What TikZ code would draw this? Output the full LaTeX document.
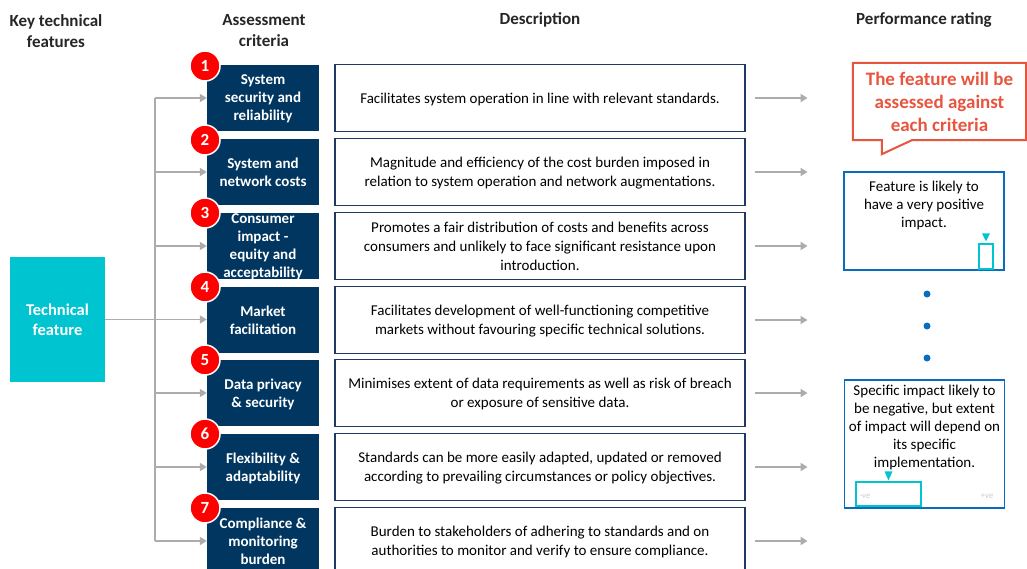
\documentclass[tikz,border=0pt]{standalone}
\usepackage{fontspec}
\setmainfont{Carlito}
\usepackage{xcolor}
\usetikzlibrary{
    arrows.meta,
    calc,
    positioning
}
\definecolor{navy}{RGB}{0,54,96}
\definecolor{tcyan}{RGB}{0,196,208}
\definecolor{descline}{RGB}{31,56,100}
\definecolor{rateline}{RGB}{10,108,190}
\definecolor{notered}{RGB}{232,85,63}
\definecolor{arrgray}{RGB}{172,172,172}
\definecolor{headtext}{RGB}{38,38,38}

\begin{document}
\begin{tikzpicture}[x=1pt, y=-1pt,
    header/.style={align=center, text=headtext, font=\fontsize{17}{21}\selectfont\bfseries},
    critbox/.style={fill=navy, text=white, minimum width=112, minimum height=66, inner sep=0,
        align=center, text depth=0pt, font=\fontsize{15}{18}\selectfont\bfseries},
    crittext/.style={text=white, inner sep=0, align=center, text depth=0pt,
        font=\fontsize{15}{18}\selectfont\bfseries},
    descbox/.style={draw=descline, line width=1.1pt, minimum width=410, minimum height=67, inner sep=0,
        align=center, text depth=0pt, font=\fontsize{15}{19}\selectfont},
    badge/.style={circle, fill=red, draw=white, line width=1.5pt, minimum size=30, inner sep=0,
        text=white, font=\fontsize{17}{17}\selectfont\bfseries},
    garrow/.style={draw=arrgray, line width=1.8pt, -{Triangle[length=7pt, width=8pt]}},
    gline/.style={draw=arrgray, line width=1.8pt},
    ratebox/.style={draw=rateline, line width=1.3pt, minimum width=160, inner sep=0},
    ratetext/.style={align=center, inner sep=0, font=\fontsize{15}{18}\selectfont},
    marker/.style={draw=tcyan, line width=1.2pt, inner sep=0},
    endlabel/.style={text=black!20, inner sep=0, font=\fontsize{9}{9}\selectfont\itshape},
    dot/.style={circle, fill=rateline, minimum size=7, inner sep=0}
]
\clip (0,0) rectangle (1027,569);

% column headings
\node[header] (h1) at (56,31) {Key technical\\features};
\node[header] (h2) at (264,31) {Assessment\\criteria};
\node[header] (h3) at (540,20) {Description};
\node[header] (h4) at (924,20) {Performance rating};

% the feature
\node[fill=tcyan, text=white, minimum width=95, minimum height=125, inner sep=0, align=center,
    text depth=0pt, font=\fontsize{16.5}{20}\selectfont\bfseries] (tf) at (57.5,319.5) {Technical\\feature};

% criteria
\node[critbox] (crit1) at (263,98) {System\\security and\\reliability};
\node[critbox] (crit2) at (263,172) {System and\\network costs};
\node[critbox] (crit3) at (263,246) {};
\node[crittext] (crit3txt) at (crit3.center) {Consumer\\impact -\\equity and\\acceptability};
\node[critbox] (crit4) at (263,320) {Market\\facilitation};
\node[critbox] (crit5) at (263,393) {Data privacy\\\& security};
\node[critbox] (crit6) at (263,467) {Flexibility \&\\adaptability};
\node[critbox] (crit7) at (263,541) {Compliance \&\\monitoring\\burden};

\node[badge] (num1) at (205,66) {1};
\node[badge] (num2) at (205,140) {2};
\node[badge] (num3) at (205,213) {3};
\node[badge] (num4) at (205,287) {4};
\node[badge] (num5) at (205,360) {5};
\node[badge] (num6) at (205,434) {6};
\node[badge] (num7) at (205,508) {7};

% descriptions
\node[descbox] (desc1) at (540,98) {Facilitates system operation in line with relevant standards.};
\node[descbox] (desc2) at (540,172) {Magnitude and efficiency of the cost burden imposed in\\relation to system operation and network augmentations.};
\node[descbox] (desc3) at (540,246) {Promotes a fair distribution of costs and benefits across\\consumers and unlikely to face significant resistance upon\\introduction.};
\node[descbox] (desc4) at (540,320) {Facilitates development of well-functioning competitive\\markets without favouring specific technical solutions.};
\node[descbox] (desc5) at (540,393) {Minimises extent of data requirements as well as risk of breach\\or exposure of sensitive data.};
\node[descbox] (desc6) at (540,467) {Standards can be more easily adapted, updated or removed\\according to prevailing circumstances or policy objectives.};
\node[descbox] (desc7) at (540,541) {Burden to stakeholders of adhering to standards and on\\authorities to monitor and verify to ensure compliance.};

% feature to criteria
\coordinate (bustop) at (155,98);
\coordinate (busbot) at (155,541);
\draw[gline] (bustop) -- (busbot);
\draw[garrow] (tf.east) -- (tf.east -| crit4.west);
\draw[garrow] (bustop) -- (crit1.west);
\draw[garrow] (crit2.west -| bustop) -- (crit2.west);
\draw[garrow] (crit3.west -| bustop) -- (crit3.west);
\draw[garrow] (crit5.west -| bustop) -- (crit5.west);
\draw[garrow] (crit6.west -| bustop) -- (crit6.west);
\draw[garrow] (busbot) -- (crit7.west);

% descriptions to rating
\draw[garrow] ([xshift=9pt]desc1.east) -- ([xshift=62pt]desc1.east);
\draw[garrow] ([xshift=9pt]desc2.east) -- ([xshift=62pt]desc2.east);
\draw[garrow] ([xshift=9pt]desc3.east) -- ([xshift=62pt]desc3.east);
\draw[garrow] ([xshift=9pt]desc4.east) -- ([xshift=62pt]desc4.east);
\draw[garrow] ([xshift=9pt]desc5.east) -- ([xshift=62pt]desc5.east);
\draw[garrow] ([xshift=9pt]desc6.east) -- ([xshift=62pt]desc6.east);
\draw[garrow] ([xshift=9pt]desc7.east) -- ([xshift=62pt]desc7.east);

% callout
\node[minimum width=173, minimum height=77, inner sep=0, align=center, text=notered, text depth=0pt,
    font=\fontsize{19}{23}\selectfont\bfseries] (note) at (939.5,101.5) {The feature will be\\assessed against\\each criteria};
\draw[notered, line width=2pt] ([xshift=59pt]note.south west) -- (note.south east) -- (note.north east)
    -- (note.north west) -- (note.south west) -- ([xshift=29pt]note.south west) -- ++(0,14) -- cycle;

% rating boxes
\node[ratebox, minimum height=98] (rate1) at (924,221) {};
\node[ratetext, anchor=north] (rate1txt) at ([yshift=-10pt]rate1.north) {Feature is likely to\\have a very positive\\impact.};
\node[marker, minimum width=14, minimum height=25] (mark1) at (986,256.5) {};
\fill[tcyan] ([yshift=2pt]mark1.north) -- ++(-4,-8) -- ++(8,0) -- cycle;

\node[dot] (dot1) at (927,294) {};
\node[dot] (dot2) at (927,326) {};
\node[dot] (dot3) at (927,358) {};

\node[ratebox, minimum height=128] (rate2) at (924.5,444) {};
\node[ratetext, anchor=north] (rate2txt) at ([yshift=-6pt]rate2.north) {Specific impact likely to\\be negative, but extent\\of impact will depend on\\its specific\\implementation.};
\node[endlabel] (neg) at (865,496) {-ve};
\node[endlabel] (pos) at (987,496) {+ve};
\node[marker, minimum width=65, minimum height=24] (mark2) at (888.5,494) {};
\fill[tcyan] ([yshift=1pt]mark2.north) -- ++(-4,-9) -- ++(8,0) -- cycle;
\end{tikzpicture}
\end{document}
